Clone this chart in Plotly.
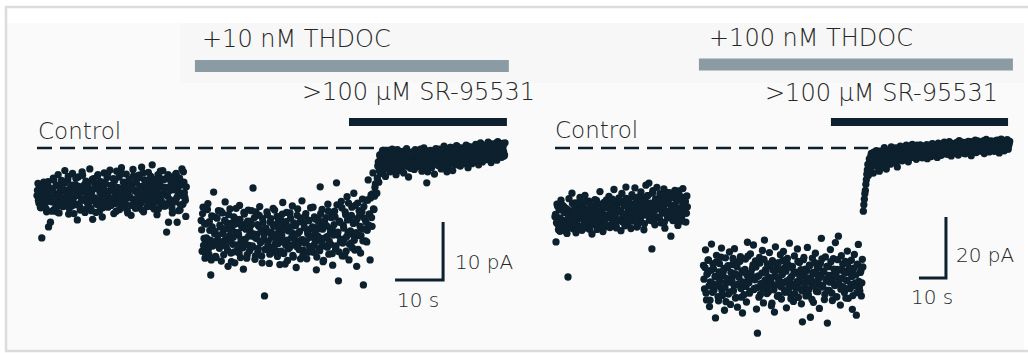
import plotly.graph_objects as go

# ---------------- data (current in pA, sampled recordings) ----------------
# Each segment is stored as two interleaved sample sets (a and b, b offset by half a sample).
SAMPLE_L = 0.2    # s per sample, 10 nM recording
SAMPLE_R = 0.37   # s per sample, 100 nM recording

left_ctrl_start = 0.0
left_ctrl = [
    -8.2, -6.1, -9.5, -7.0, -10.3, -15.5, -8.8, -5.9, -9.9, -7.4, -11.0, -6.6, -13.6,
    -8.5, -12.8, -7.1, -9.3, -5.2, -10.6, -8.0, -6.4, -9.1, -4.6, -11.2, -7.7, -8.9,
    -6.0, -10.1, -7.3, -3.9, -9.6, -8.4, -5.5, -11.4, -7.9, -6.8, -10.0, -4.4, -8.6,
    -9.8, -6.3, -7.5, -12.4, -5.0, -8.1, -10.7, -6.9, -4.1, -9.0, -7.2, -11.1, -5.7,
    -8.3, -6.5, -9.4, -3.6, -10.4, -7.6, -12.3, -5.3, -8.7, -6.2, -9.7, -4.8, -7.0,
    -10.9, -5.8, -8.0, -11.9, -6.7, -4.3, -9.2, -7.8, -5.1, -10.2, -8.5, -3.8, -9.9,
    -6.4, -7.1, -11.3, -5.6, -8.9, -4.0, -9.5, -6.9, -10.6, -7.3, -3.4, -8.2, -5.9,
    -9.1, -6.6, -4.5, -10.8, -7.7, -5.4, -8.6, -11.6, -6.1, -3.7, -9.3, -7.4, -5.0,
    -8.8, -10.3, -4.7, -6.8, -9.6, -3.3, -7.9, -11.0, -5.5, -8.4, -6.3, -10.1, -4.2,
    -7.5, -9.0, -5.8, -2.9, -8.1, -10.5, -6.0, -7.2, -11.5, -4.6, -8.7, -5.2, -9.8,
    -6.7, -3.9, -10.0, -7.6, -5.3, -14.5, -8.3, -12.8, -4.9, -9.4, -6.5, -11.2, -7.0,
    -5.6, -9.2, -4.4, -12.8, -8.0, -6.2, -10.7, -7.8, -3.6, -9.7, -5.9, -8.5, -11.8,
]
left_ctrl_b = [
    -7.3, -9.0, -6.8, -10.2, -8.1, -7.0, -9.6, -6.2, -8.4, -10.5, -7.6, -5.8, -9.2,
    -6.9, -8.8, -10.9, -7.4, -5.5, -9.4, -7.9, -11.0, -6.5, -8.3, -9.9, -7.1, -5.6,
    -8.6, -10.0, -7.2, -6.0, -9.1, -8.0, -4.9, -10.4, -7.7, -9.3, -6.4, -8.5, -11.3,
    -7.0, -5.2, -9.7, -8.2, -6.6, -10.1, -7.5, -9.0, -4.7, -8.8, -6.3, -10.6, -7.8,
    -9.5, -6.1, -8.3, -7.3, -10.8, -5.4, -9.1, -7.0, -8.6, -11.1, -6.7, -4.6, -9.8,
    -7.6, -8.9, -5.9, -10.3, -7.1, -9.4, -6.2, -8.1, -4.5, -10.0, -7.4, -9.0, -6.5,
    -8.7, -5.3, -9.6, -7.9, -10.9, -6.8, -8.2, -5.0, -9.3, -7.2, -4.4, -10.2, -8.0,
    -6.4, -9.7, -7.5, -11.2, -5.7, -8.4, -6.9, -9.9, -7.0, -4.8, -8.8, -10.4, -6.0,
    -7.7, -9.2, -5.1, -8.5, -6.6, -10.7, -4.3, -9.0, -7.3, -8.1, -5.6, -9.5, -6.9,
    -8.3, -4.9, -10.1, -7.1, -6.1, -9.4, -5.4, -8.7, -7.6, -10.5, -6.3, -4.0, -9.1,
    -7.9, -5.5, -8.0, -10.0, -6.8, -9.6, -4.6, -7.4, -8.9, -5.8, -10.3, -7.2, -6.0,
    -9.3, -4.5, -8.6, -7.0, -10.8, -5.2, -9.8, -6.4, -8.2, -4.1, -7.7, -9.0, -6.7,
]

left_thdoc_start = 34.2
left_thdoc = [
    -12.5, -17.8, -10.2, -15.6, -19.0, -13.1, -16.4, -9.6, -18.3, -14.2, -21.9, -11.7, -16.9,
    -7.6, -14.8, -18.7, -12.0, -15.9, -10.8, -17.3, -13.6, -19.5, -11.2, -16.1, -14.0, -9.3,
    -17.0, -12.9, -20.4, -15.2, -10.5, -18.1, -13.8, -16.6, -11.9, -19.8, -14.6, -12.3, -17.6,
    -15.0, -9.9, -18.9, -13.3, -16.2, -20.9, -11.4, -15.7, -13.0, -18.4, -10.7, -16.8, -14.4,
    -12.6, -17.1, -6.9, -15.3, -19.2, -11.0, -14.9, -17.9, -13.5, -10.1, -16.3, -18.6, -12.2,
    -15.8, -25.5, -13.9, -17.4, -11.5, -16.0, -19.9, -12.8, -14.5, -18.0, -10.4, -15.4, -13.2,
    -17.7, -11.8, -16.5, -14.1, -20.1, -12.4, -15.1, -9.4, -18.2, -13.7, -16.7, -11.1, -19.4,
    -14.3, -17.2, -12.1, -15.5, -10.0, -18.8, -13.4, -16.0, -20.6, -11.6, -14.7, -17.5, -12.7,
    -15.9, -9.1, -18.5, -13.0, -16.4, -11.3, -19.1, -14.8, -12.5, -17.0, -10.3, -15.2, -13.6,
    -18.0, -11.9, -16.1, -21.0, -14.0, -12.2, -17.3, -6.7, -15.6, -10.6, -19.6, -13.1, -16.9,
    -12.0, -15.3, -9.7, -18.3, -13.8, -16.6, -11.2, -20.2, -14.4, -10.9, -17.4, -6.0, -15.0,
    -22.9, -12.6, -16.2, -9.2, -18.6, -13.3, -15.7, -11.0, -17.8, -8.4, -14.6, -19.3, -12.3,
    -16.4, -10.2, -14.9, -7.8, -17.6, -12.8, -20.4, -9.5, -15.1, -11.7, -18.1, -13.9, -8.8,
    -23.6, -12.1, -16.0, -9.0, -14.2, -5.5, -11.4, -19.3, -8.1, -13.5, -4.3, -10.6, -6.8,
]
left_thdoc_b = [
    -14.1, -11.3, -16.8, -13.0, -18.2, -15.5, -10.6, -17.4, -12.7, -15.9, -19.3, -13.6, -11.8,
    -16.2, -14.4, -18.9, -12.1, -15.1, -17.0, -13.3, -10.9, -16.5, -14.7, -18.4, -12.5, -15.7,
    -13.9, -17.6, -11.5, -16.0, -14.2, -19.6, -12.9, -15.4, -17.9, -13.1, -10.4, -16.7, -14.6,
    -18.1, -12.3, -15.8, -13.7, -17.2, -11.1, -16.3, -14.0, -19.0, -12.6, -15.2, -17.7, -13.4,
    -10.8, -16.9, -14.8, -12.0, -18.6, -15.6, -13.2, -17.3, -11.6, -16.1, -14.3, -19.8, -12.8,
    -15.0, -17.5, -13.8, -11.0, -16.6, -14.5, -18.3, -12.2, -15.3, -17.1, -13.5, -10.7, -16.4,
    -14.9, -18.7, -12.4, -15.6, -13.0, -17.8, -11.4, -16.2, -14.1, -20.0, -12.7, -15.9, -17.4,
    -13.6, -11.2, -16.8, -14.6, -18.5, -12.9, -15.1, -13.3, -17.0, -10.5, -16.5, -14.4, -19.1,
    -12.1, -15.8, -17.6, -13.7, -11.7, -16.0, -14.2, -18.0, -12.5, -15.4, -13.9, -17.3, -10.2,
    -16.7, -14.8, -12.3, -18.8, -15.2, -13.1, -17.7, -11.3, -16.3, -14.0, -19.4, -12.6, -15.5,
    -13.4, -17.1, -10.9, -16.1, -14.7, -12.0, -18.2, -15.0, -13.2, -11.9, -16.9, -9.8, -14.5,
    -17.9, -12.8, -15.7, -10.3, -16.4, -13.8, -18.6, -11.5, -15.3, -12.4, -9.5, -16.6, -14.3,
    -11.6, -17.2, -13.0, -15.9, -9.9, -14.6, -12.2, -17.5, -10.8, -13.5, -15.1, -11.0, -16.0,
    -10.1, -14.0, -12.7, -16.2, -9.0, -13.3, -11.4, -8.6, -12.0, -7.9, -10.5, -8.3, -6.2,
]

left_sr_start = 70.8
left_sr = [
    -7.8, -3.1, -5.9, -1.2, -4.4, -2.6, -0.4, -3.8, -1.9, -4.9, -2.3, -0.9, -3.4,
    -1.6, -4.1, -2.8, -0.2, -3.6, -1.3, -2.9, -4.6, -0.7, -2.1, -3.3, -1.0, -3.9,
    -2.5, -0.6, -4.3, -1.8, -3.0, -0.1, -2.4, -5.0, -1.4, -3.5, -0.8, -2.7, -1.5,
    -3.7, -0.3, -2.0, -2.0, -1.1, -3.2, -0.5, -2.6, -4.0, -1.7, 0.0, -3.1, -2.2,
    -6.0, -4.1, -1.6, -2.9, -0.4, -3.4, -1.2, -2.0, -4.5, -0.6, -2.5, -1.3, -3.0,
    -0.2, -1.9, -3.6, -0.8, -2.3, 0.3, -1.5, -2.8, -4.1, -3.3, -1.0, -2.1, 0.1,
    -1.7, -3.9, -0.7, -2.4, -1.1, 0.4, -2.9, -1.4, -0.3, -3.1, -1.8, 0.0, -2.2,
    -0.9, -2.6, 0.5, -1.3, -3.4, -0.6, -1.9, 0.2, -2.7, -1.0, -0.4, -2.3, 0.6,
    -1.5, -0.1, -2.9, -0.8, 0.9, -1.7, -2.4, -0.3, -1.2, 0.4, -2.0, -0.7, 1.0,
    -1.4, -0.2, -2.5, 0.7, -0.9, -1.8, 0.2, -0.5, -2.1, 1.1, -1.1, -0.4, 0.5,
    -1.6, 0.8, -0.6, -1.2,
]
left_sr_b = [
    -5.2, -2.4, -3.9, -1.5, -2.8, -0.8, -3.3, -2.0, -1.1, -3.6, -2.6, -1.4, -0.5,
    -2.9, -1.8, -3.1, -0.9, -2.2, -3.8, -1.6, -2.5, -0.3, -3.0, -1.9, -2.7, -1.2,
    -3.4, -0.7, -2.1, -1.5, -2.8, -0.4, -3.2, -1.7, -2.3, -1.0, -3.5, -2.0, -0.6,
    -2.6, -1.3, -3.0, -0.8, -1.9, -2.4, -0.2, -3.1, -1.4, -2.2, -0.9, -2.9, -1.6,
    -0.5, -2.7, -1.2, -2.0, -3.3, -0.7, -1.8, -2.5, -1.0, -0.1, -2.3, -1.5, -3.0,
    -0.6, -1.9, -2.6, -1.1, -0.3, -2.2, -1.4, -3.1, -0.8, -1.7, -2.4, 0.1, -1.3,
    -2.0, -0.4, -2.8, -1.6, -0.9, -2.3, 0.2, -1.2, -2.1, -0.6, -1.5, -2.7, -0.2,
    -1.8, -0.7, -2.4, 0.3, -1.1, -2.0, -0.5, -1.4, 0.0, -2.2, -0.8, -1.6, 0.4,
    -1.0, -2.1, -0.3, -1.3, 0.6, -1.9, -0.6, -1.1, 0.2, -1.7, -0.4, 0.8, -1.2,
    -0.1, -1.5, 0.5, -0.9, -1.8, 0.1, -0.5, 0.9, -1.3, -0.2, 0.4, -1.0, 0.7,
    -0.6, 0.2, -1.4, 0.9,
]

right_ctrl_start = 0.0
right_ctrl = [
    -22.5, -30.8, -18.4, -25.1, -20.0, -27.3, -17.1, -23.6, -26.0, -19.2, -24.4, -21.0, -28.0,
    -42.3, -16.6, -24.9, -20.7, -14.8, -26.5, -22.0, -18.0, -27.8, -23.3, -19.6, -25.6, -16.2,
    -21.5, -27.0, -18.8, -24.0, -15.5, -22.8, -26.2, -20.2, -17.4, -25.0, -21.9, -28.2, -19.0,
    -23.9, -16.9, -21.2, -26.7, -18.3, -24.6, -14.3, -22.4, -20.5, -27.4, -17.8, -23.0, -25.8,
    -19.5, -22.1, -15.9, -26.1, -20.9, -17.5, -24.2, -13.6, -21.7, -25.3, -18.6, -23.5, -16.4,
    -20.4, -27.1, -14.9, -22.6, -18.1, -25.5, -12.8, -21.4, -24.8, -17.0, -19.8, -26.4, -15.3,
    -23.2, -18.5, -13.1, -21.1, -25.9, -16.1, -20.3, -24.1, -14.4, -22.2, -17.7, -26.8, -19.3,
    -12.2, -21.8, -15.6, -11.5, -23.7, -18.9, -33.1, -14.0, -20.6, -25.2, -16.7, -12.9, -22.7,
    -19.1, -15.0, -24.5, -17.2, -21.3, -13.4, -26.3, -18.2, -14.6, -22.9, -16.3, -20.8, -28.9,
    -15.2, -23.8, -18.7, -13.9, -21.6, -17.3, -25.4, -14.1, -19.7, -16.0, -22.3, -13.3, -20.1,
    -17.6, -24.3, -15.7,
]
right_ctrl_b = [
    -21.8, -24.5, -19.0, -26.8, -22.9, -20.3, -25.7, -18.7, -23.8, -21.2, -27.2, -19.9, -24.0,
    -22.3, -26.1, -20.6, -23.4, -18.2, -25.2, -21.6, -19.4, -24.7, -22.6, -17.9, -26.3, -20.9,
    -23.1, -19.7, -25.5, -21.3, -17.6, -24.3, -22.1, -20.0, -26.6, -18.9, -23.6, -21.0, -25.0,
    -19.3, -22.7, -17.2, -24.9, -20.7, -23.3, -18.5, -26.0, -21.5, -19.1, -24.4, -22.2, -17.0,
    -21.9, -25.4, -18.8, -23.0, -20.2, -16.8, -24.6, -22.5, -19.6, -26.2, -21.1, -18.0, -23.7,
    -20.5, -17.4, -24.2, -21.7, -19.0, -25.1, -16.5, -22.8, -20.1, -23.9, -18.3, -21.3, -15.9,
    -24.0, -19.5, -22.4, -17.7, -25.6, -20.8, -18.6, -23.5, -16.2, -21.6, -19.8, -24.8, -17.3,
    -22.0, -15.6, -20.4, -23.2, -18.1, -21.8, -14.8, -24.1, -19.2, -16.9, -22.6, -20.0, -17.6,
    -23.0, -18.4, -15.3, -21.2, -19.7, -24.3, -16.6, -20.6, -22.4, -17.9, -14.6, -21.9, -19.0,
    -16.3, -22.1, -18.8, -20.3, -15.1, -23.4, -17.1, -19.6, -21.5, -16.0, -24.0, -18.2, -20.7,
    -17.5, -21.4, -19.3,
]

right_thdoc_start = 55.0
right_thdoc = [
    -38.5, -46.2, -33.4, -49.8, -41.1, -36.7, -52.0, -43.9, -31.5, -47.3, -39.6, -44.8, -55.7,
    -35.2, -42.4, -50.1, -37.9, -45.6, -32.8, -48.4, -40.3, -53.2, -36.0, -44.0, -39.1, -47.9,
    -34.1, -51.3, -42.9, -38.2, -46.8, -33.0, -49.2, -41.6, -52.2, -37.3, -45.0, -35.6, -48.9,
    -54.1, -40.7, -44.3, -36.4, -50.5, -30.9, -43.2, -47.6, -34.7, -41.9, -39.4, -31.8, -46.0,
    -37.0, -52.8, -60.7, -42.0, -35.9, -48.0, -44.6, -33.6, -50.8, -30.2, -39.9, -45.3, -38.0,
    -47.1, -34.3, -42.6, -51.7, -36.9, -44.9, -53.8, -32.4, -40.0, -48.6, -37.6, -43.5, -35.0,
    -49.5, -41.3, -33.9, -46.5, -39.0, -52.4, -36.2, -44.1, -31.2, -47.8, -42.2, -38.8, -50.3,
    -35.4, -45.8, -40.9, -33.1, -49.0, -37.5, -43.8, -51.1, -57.0, -36.6, -46.3, -39.7, -42.5,
    -32.6, -48.2, -38.4, -55.5, -44.4, -36.1, -50.6, -41.0, -34.5, -47.0, -39.3, -43.0, -52.6,
    -37.8, -29.6, -45.1, -40.5, -49.7, -35.7, -43.6, -57.4, -38.9, -46.7, -33.3, -41.8, -50.0,
    -36.3, -44.7, -31.0, -48.8, -39.8, -28.9, -42.8, -51.5, -35.3, -45.5, -40.2, -47.4, -37.2,
    -43.3, -33.8, -49.3, -39.5, -46.1, -36.8, -52.9, -41.4, -34.9, -44.2, -54.8, -38.1, -31.6,
    -45.9, -40.8, -48.5, -36.5,
]
right_thdoc_b = [
    -43.0, -39.2, -47.5, -41.4, -36.8, -45.2, -49.9, -40.1, -44.3, -38.0, -46.6, -42.1, -37.4,
    -44.9, -48.7, -40.6, -43.7, -35.8, -46.9, -41.8, -39.5, -45.7, -50.4, -42.8, -38.6, -44.0,
    -47.2, -40.8, -43.5, -36.2, -45.1, -41.2, -49.0, -38.9, -44.6, -42.4, -37.1, -46.1, -40.3,
    -43.9, -48.1, -39.8, -45.4, -41.6, -35.5, -44.2, -47.0, -40.9, -42.7, -38.3, -46.4, -43.2,
    -39.0, -45.8, -42.0, -48.9, -37.7, -44.5, -41.0, -46.2, -36.5, -43.4, -40.5, -47.7, -42.3,
    -45.0, -38.7, -43.1, -50.9, -40.0, -46.5, -41.9, -37.9, -44.8, -42.6, -48.3, -39.6, -45.5,
    -41.5, -36.9, -44.1, -47.3, -40.4, -43.6, -38.2, -46.0, -42.9, -49.4, -39.3, -44.7, -41.1,
    -47.9, -40.7, -43.8, -37.2, -45.9, -42.2, -39.9, -46.8, -41.7, -35.9, -44.4, -48.5, -40.2,
    -43.3, -46.4, -38.5, -42.5, -49.6, -40.8, -45.3, -37.6, -43.9, -41.3, -47.1, -39.1, -44.9,
    -42.0, -36.4, -45.6, -40.6, -48.0, -43.0, -38.8, -46.7, -41.8, -44.0, -37.3, -47.6, -42.8,
    -39.7, -45.1, -41.4, -48.8, -36.6, -44.3, -40.0, -46.3, -42.7, -38.1, -45.8, -41.0, -49.2,
    -43.5, -37.8, -46.1, -40.9, -44.6, -42.1, -48.4, -39.4, -45.2, -41.6, -47.4, -38.4, -43.7,
    -46.9, -40.3, -44.2, -39.0,
]

right_sr_start = 114.2
right_sr = [
    -20.7, -16.8, -13.9, -10.4, -7.2, -9.0, -3.6, -6.4, -1.8, -5.1, -8.2, -2.9, -4.7,
    -0.9, -6.1, -3.3, -7.6, -1.5, -4.4, -2.2, -5.8, 0.1, -3.9, -6.9, -1.1, -4.0,
    -2.6, -5.3, 0.4, -3.1, -1.7, -4.8, -0.5, -2.9, -6.2, -1.3, -3.6, 0.6, -2.3,
    -4.2, -0.8, -2.0, -3.4, 0.9, -1.6, -4.5, -0.2, -2.7, -1.0, 1.2, -3.0, -0.6,
    -1.9, -3.7, 0.3, -1.2, -2.5, 1.0, -0.4, -3.2, -1.4, 0.7, -2.1, -0.1, -3.5,
    0.5, -1.7, -0.3, -2.8, 1.4, -1.0, -2.2, 0.2, -0.7, -3.1, 1.6, -1.5, -0.2,
    -2.4, 0.8, -1.1, 1.9, -0.5, -2.0, 0.0, -1.3, 2.1, -0.8, -2.6, 1.1, -0.4,
    -1.6, 1.5, -0.9, 0.3, -2.3, 2.4, -0.2, -1.4, 0.9, -0.6, 1.8, -1.9, 0.4,
    -0.7, 2.2, -1.2, 0.6, -2.5, 1.3, 0.0, -0.9, 2.6, -1.5, 0.8, -0.3, 1.7,
    -1.0, 2.0, -0.5, 1.2, -1.8, 0.2, 2.8, -0.8, 1.0, -1.3, 0.5, 2.3, -0.1,
    1.4, -1.1, 0.7, 2.5, -0.6, 1.8, -1.6, 0.3, 2.9, -0.2, 1.1, -0.9, 2.0,
    0.6, 2.7, -0.4, 1.5,
]
right_sr_b = [
    -18.6, -15.0, -11.9, -8.6, -5.4, -7.1, -4.2, -2.7, -6.0, -3.5, -1.4, -4.9, -3.0,
    -5.5, -2.1, -4.3, -1.0, -3.7, -6.3, -2.4, -0.6, -4.6, -3.2, -1.6, -5.0, -2.8,
    -0.8, -3.9, -2.0, -4.7, -1.2, -3.0, 0.0, -2.5, -4.1, -1.5, -3.3, -0.4, -2.2,
    -3.6, -1.1, 0.4, -2.6, -1.8, -3.8, -0.7, -2.0, 0.7, -1.4, -3.1, -0.3, -2.4,
    -0.9, 0.9, -1.9, -3.0, -0.2, -1.5, 0.5, -2.7, -1.0, -0.4, -2.2, 1.1, -1.3,
    -2.0, 0.3, -0.8, -1.7, 1.3, -0.5, -2.4, 0.1, -1.2, 0.8, -1.9, -0.3, 1.0,
    -1.0, -0.1, 1.6, -1.6, 0.4, -0.7, 1.2, -2.1, 0.0, -0.9, 1.5, -1.3, 0.6,
    0.2, -1.5, 1.8, -0.4, 0.7, -1.1, 2.0, -0.2, 0.9, -1.7, 1.3, 0.0, -0.8,
    1.6, -0.5, 0.4, 2.1, -1.0, 1.0, -0.1, 1.9, -0.7, 0.6, 2.3, -0.3, 1.2,
    0.1, 1.7, -0.6, 2.4, 0.5, -0.9, 1.4, 0.8, -0.2, 2.2, 0.3, 1.1, -0.4,
    2.0, 0.6, -0.5, 1.6, 2.6, 0.2, 1.3, -0.8, 1.9, 0.9, 2.5, 0.0, 1.5,
    -0.3, 1.8, 0.7, 2.2,
]

# drug application periods (s) and labels
left_thdoc_bar = (32.9, 98.3)
left_sr_bar = (65.0, 97.9)
right_thdoc_bar = (53.3, 169.6)
right_sr_bar = (102.2, 167.8)
labels = ["+10 nM THDOC", ">100 \u03bcM SR-95531", "Control", "10 pA", "10 s",
          "+100 nM THDOC", ">100 \u03bcM SR-95531", "Control", "20 pA", "10 s"]

# ---------------- style ----------------
DOT = "#0c202d"
GRAY_BAR = "#8a9ba4"
TXT = "#262626"
FONT = "DejaVu Sans"
W, H = 1028, 353


def times(start, vals, dt):
    return [start + i * dt for i in range(len(vals))]


fig = go.Figure()

# baseline dashed lines (below dots)
fig.add_trace(go.Scatter(x=[0, 75], y=[0, 0], mode="lines", xaxis="x", yaxis="y",
                         line=dict(color=DOT, width=2.5, dash="15px,8px"), hoverinfo="skip"))
fig.add_trace(go.Scatter(x=[0, 116], y=[0, 0], mode="lines", xaxis="x2", yaxis="y2",
                         line=dict(color=DOT, width=2.5, dash="15px,8px"), hoverinfo="skip"))

mk = dict(color=DOT, size=7.3, line=dict(width=0))
for start, a, b in [(left_ctrl_start, left_ctrl, left_ctrl_b),
                    (left_thdoc_start, left_thdoc, left_thdoc_b),
                    (left_sr_start, left_sr, left_sr_b)]:
    fig.add_trace(go.Scatter(x=times(start, a, SAMPLE_L) + times(start + SAMPLE_L / 2, b, SAMPLE_L),
                             y=a + b, mode="markers", marker=mk, xaxis="x", yaxis="y"))
for start, a, b in [(right_ctrl_start, right_ctrl, right_ctrl_b),
                    (right_thdoc_start, right_thdoc, right_thdoc_b),
                    (right_sr_start, right_sr, right_sr_b)]:
    fig.add_trace(go.Scatter(x=times(start, a, SAMPLE_R) + times(start + SAMPLE_R / 2, b, SAMPLE_R),
                             y=a + b, mode="markers", marker=mk, xaxis="x2", yaxis="y2"))

# scale bars
fig.add_trace(go.Scatter(x=[74.6, 84.6, 84.6], y=[-22.76, -22.76, -12.76], mode="lines",
                         xaxis="x", yaxis="y", line=dict(color=DOT, width=3)))
fig.add_trace(go.Scatter(x=[134.8, 144.8, 144.8], y=[-42.6, -42.6, -22.6], mode="lines",
                         xaxis="x2", yaxis="y2", line=dict(color=DOT, width=3)))

shapes = []


def px_x(p):
    return p / W


def px_y(p):
    return 1 - p / H


# panel background / frame
shapes.append(dict(type="rect", xref="paper", yref="paper", x0=px_x(6), x1=px_x(1024),
                   y0=px_y(351), y1=px_y(23), fillcolor="#fafafa", line=dict(width=0), layer="below"))
shapes.append(dict(type="rect", xref="paper", yref="paper", x0=px_x(180), x1=px_x(1024),
                   y0=px_y(83), y1=px_y(23), fillcolor="#f7f7f7", line=dict(width=0), layer="below"))
for (x0, y0, x1, y1) in [(5, 7, 1028, 7), (6, 7, 6, 351), (5, 351, 1028, 351)]:
    shapes.append(dict(type="line", xref="paper", yref="paper", x0=px_x(x0), x1=px_x(x1),
                       y0=px_y(y0), y1=px_y(y1), line=dict(color="#dcdcdc", width=2.5), layer="below"))

# drug bars
shapes.append(dict(type="line", xref="x", yref="y", x0=left_thdoc_bar[0], x1=left_thdoc_bar[1],
                   y0=14.14, y1=14.14, line=dict(color=GRAY_BAR, width=12)))
shapes.append(dict(type="line", xref="x", yref="y", x0=left_sr_bar[0], x1=left_sr_bar[1],
                   y0=4.48, y1=4.48, line=dict(color=DOT, width=8)))
shapes.append(dict(type="line", xref="x2", yref="y2", x0=right_thdoc_bar[0], x1=right_thdoc_bar[1],
                   y0=27.38, y1=27.38, line=dict(color=GRAY_BAR, width=12)))
shapes.append(dict(type="line", xref="x2", yref="y2", x0=right_sr_bar[0], x1=right_sr_bar[1],
                   y0=8.52, y1=8.52, line=dict(color=DOT, width=8)))

ann = []


def add_text(text, x, y, ax, size):
    ann.append(dict(text=text, x=x, y=y, xref=ax[0], yref=ax[1], xanchor="left", yanchor="middle",
                    showarrow=False, font=dict(family=FONT, size=size, color=TXT, weight=200)))


add_text(labels[0], 33.96, 18.79, ("x", "y"), 24)
add_text(labels[1], 54.8, 9.66, ("x", "y"), 24)
add_text(labels[2], -0.3, 2.93, ("x", "y"), 23)
add_text(labels[3], 86.7, -19.66, ("x", "y"), 20)
add_text(labels[4], 74.6, -26.2, ("x", "y"), 20)
add_text(labels[5], 56.3, 36.07, ("x2", "y2"), 24)
add_text(labels[6], 77.0, 18.03, ("x2", "y2"), 24)
add_text(labels[7], -0.9, 5.9, ("x2", "y2"), 23)
add_text(labels[8], 147.8, -35.08, ("x2", "y2"), 20)
add_text(labels[9], 131.2, -48.85, ("x2", "y2"), 20)

fig.update_layout(
    width=W, height=H, margin=dict(l=0, r=0, t=0, b=0),
    paper_bgcolor="white", plot_bgcolor="rgba(0,0,0,0)",
    showlegend=False, shapes=shapes, annotations=ann,
    xaxis=dict(range=[-37 / 4.8, (W - 37) / 4.8], visible=False, domain=[0, 1], anchor="y"),
    yaxis=dict(range=[(148 - H) / 5.8, 148 / 5.8], visible=False, domain=[0, 1], anchor="x"),
    xaxis2=dict(range=[-555 / 2.7, (W - 555) / 2.7], visible=False, overlaying="x", anchor="y2"),
    yaxis2=dict(range=[(148 - H) / 3.05, 148 / 3.05], visible=False, overlaying="y", anchor="x2"),
)

fig.write_html("out.html")
